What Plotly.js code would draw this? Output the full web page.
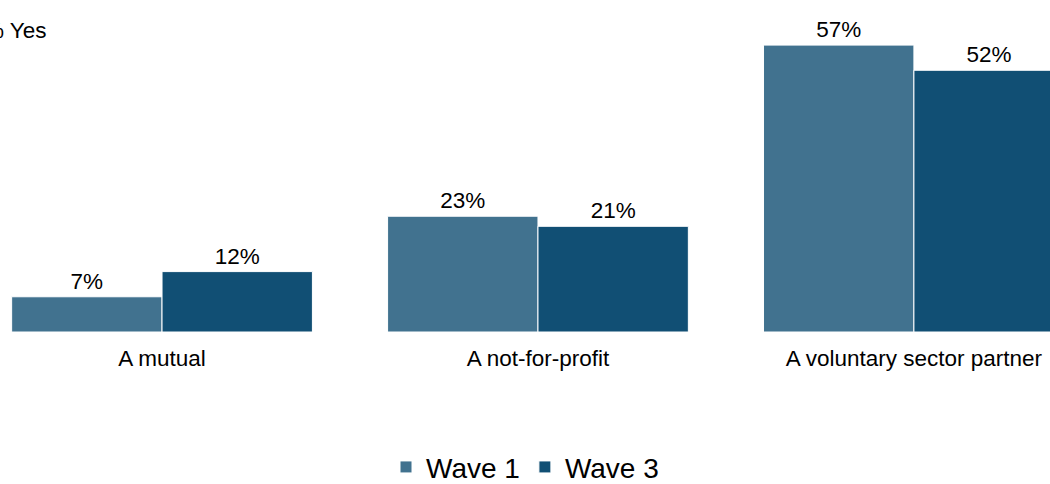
<!DOCTYPE html>
<html><head><meta charset="utf-8">
<script src="https://cdn.plot.ly/plotly-3.0.1.min.js"></script>
<style>html,body{margin:0;padding:0;background:#fff;}#chart{width:1050px;height:484px;}</style>
</head><body><div id="chart"></div>
<script>
const categories = ["A mutual", "A not-for-profit", "A voluntary sector partner"];
const wave1 = [7, 23, 57];
const wave3 = [12, 21, 52];
const seriesNames = ["Wave 1", "Wave 3"];
const colors = ["#41728F", "#114F74"];

const fmt = v => v + "%";
const traces = [wave1, wave3].map((vals, i) => ({
  type: "bar",
  name: seriesNames[i],
  x: categories,
  y: vals,
  text: vals.map(fmt),
  textposition: "outside",
  textfont: {family: "Liberation Sans, Arial, sans-serif", size: 22.5, color: "#000"},
  cliponaxis: false,
  marker: {color: colors[i], line: {color: "#ffffff", width: 1}},
  hoverinfo: "none"
}));

const layout = {
  width: 1050, height: 484,
  margin: {l: 0, r: 0, t: 30, b: 152, autoexpand: false},
  paper_bgcolor: "#fff", plot_bgcolor: "#fff",
  barmode: "group", bargap: 0.2, bargroupgap: 0,
  font: {family: "Liberation Sans, Arial, sans-serif", color: "#000"},
  xaxis: {
    range: [-0.431, 2.362],
    showgrid: false, zeroline: false, showline: false,
    ticks: "outside", ticklen: 6, tickcolor: "rgba(0,0,0,0)",
    tickfont: {size: 22.5, color: "#000"}
  },
  yaxis: {
    range: [0, 60], visible: false, showgrid: false, zeroline: false
  },
  showlegend: true,
  legend: {
    orientation: "h", x: 0.5, xanchor: "center", y: -0.365, yanchor: "top",
    font: {size: 28, color: "#000"}, itemwidth: 30, traceorder: "normal",
    tracegroupgap: 0
  },
  annotations: [{
    text: "% Yes", xref: "paper", yref: "paper", x: 49/1050, y: 1.0,
    xanchor: "right", yanchor: "middle", showarrow: false,
    font: {size: 22.5, color: "#000"}
  }]
};
Plotly.newPlot("chart", traces, layout, {staticPlot: true, displayModeBar: false});
</script></body></html>
